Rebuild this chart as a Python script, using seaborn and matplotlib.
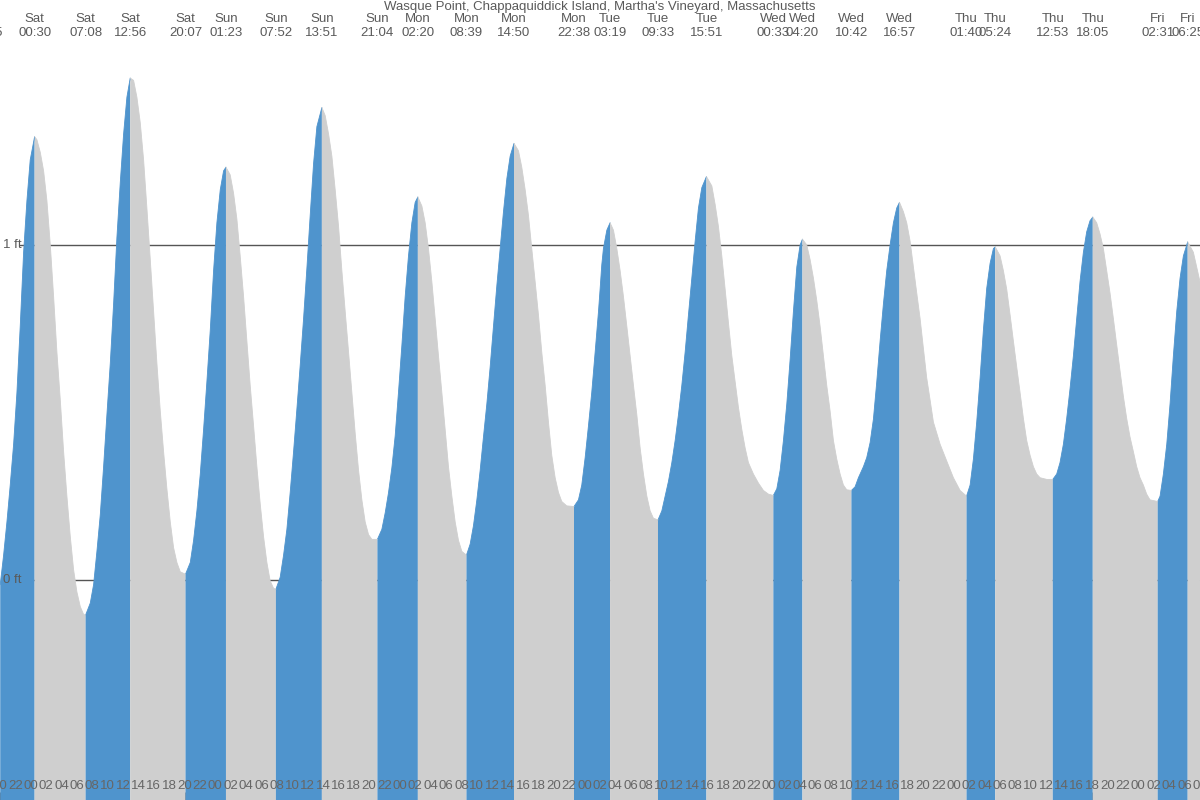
import numpy as np
import pandas as pd
import matplotlib
matplotlib.use("Agg")
import matplotlib.pyplot as plt
from matplotlib import transforms
import seaborn as sns

TITLE = "Wasque Point, Chappaquiddick Island, Martha's Vineyard, Massachusetts"

# High / low tide events (alternating Low, High, ...)
ext_day = ["Fri", "Sat", "Sat", "Sat", "Sat", "Sun", "Sun", "Sun", "Sun",
           "Mon", "Mon", "Mon", "Mon", "Tue", "Tue", "Tue",
           "Wed", "Wed", "Wed", "Wed", "Thu", "Thu", "Thu", "Thu", "Fri", "Fri"]
ext_time = ["18:15", "00:30", "07:08", "12:56", "20:07", "01:23", "07:52", "13:51", "21:04",
            "02:20", "08:39", "14:50", "22:38", "03:19", "09:33", "15:51",
            "00:33", "04:20", "10:42", "16:57", "01:40", "05:24", "12:53", "18:05", "02:31", "06:25"]

# Tide curve: hours since Sat 00:00, height in ft
tide_hours = [
    -3.97, -3.53, -3.10, -2.67, -2.23, -1.80, -1.37, -0.93, -0.50, -0.07, 0.50,
    0.80, 1.24, 1.67, 2.10, 2.54, 2.97, 3.40, 3.84, 4.27, 4.70, 5.14, 5.57, 6.00, 6.44, 6.87, 7.13,
    7.74, 8.17, 8.60, 9.04, 9.47, 9.90, 10.34, 10.77, 11.20, 11.64, 12.07, 12.50, 12.93,
    13.37, 13.80, 14.24, 14.67, 15.10, 15.54, 15.97, 16.40, 16.84, 17.27, 17.70, 18.14, 18.57, 19.00, 19.44, 20.12,
    20.74, 21.17, 21.60, 22.04, 22.47, 22.90, 23.34, 23.77, 24.20, 24.64, 25.07, 25.38,
    25.93, 26.37, 26.80, 27.23, 27.67, 28.10, 28.53, 28.97, 29.40, 29.83, 30.27, 30.70, 31.13, 31.57, 31.87,
    32.43, 32.87, 33.30, 33.73, 34.17, 34.60, 35.03, 35.47, 35.90, 36.33, 36.77, 37.20, 37.85,
    38.28, 38.72, 39.15, 39.58, 40.02, 40.45, 40.88, 41.32, 41.75, 42.18, 42.62, 43.05, 43.48, 43.92, 44.35, 45.07,
    45.65, 46.08, 46.51, 46.95, 47.38, 47.81, 48.25, 48.68, 49.11, 49.55, 49.98, 50.33,
    50.85, 51.28, 51.71, 52.15, 52.58, 53.01, 53.45, 53.88, 54.31, 54.75, 55.18, 55.61, 56.05, 56.65,
    57.13, 57.56, 58.00, 58.43, 58.86, 59.30, 59.73, 60.16, 60.60, 61.03, 61.46, 61.90, 62.33, 62.83,
    63.41, 63.84, 64.28, 64.71, 65.14, 65.58, 66.01, 66.44, 66.88, 67.31, 67.74, 68.18, 68.61, 69.04, 69.69, 70.63,
    71.21, 71.64, 72.08, 72.51, 72.94, 73.38, 73.81, 74.03, 74.24, 74.46, 74.90, 75.32,
    75.76, 76.20, 76.63, 77.06, 77.50, 77.93, 78.36, 78.80, 79.23, 79.66, 80.10, 80.53, 80.96, 81.55,
    82.05, 82.48, 82.91, 83.35, 83.78, 84.21, 84.65, 85.08, 85.51, 85.95, 86.38, 86.81, 87.25, 87.85,
    88.55, 88.98, 89.41, 89.85, 90.28, 90.71, 91.15, 91.58, 92.01, 92.45, 92.88, 93.31, 93.96, 94.61, 95.26, 95.91, 96.55,
    97.00, 97.43, 97.86, 98.30, 98.73, 99.16, 99.60, 100.03, 100.33,
    100.89, 101.33, 101.76, 102.19, 102.63, 103.06, 103.49, 103.93, 104.36, 104.79, 105.23, 105.66, 106.09, 106.70,
    107.18, 107.61, 108.26, 108.69, 109.13, 109.56, 109.99, 110.43, 110.86, 111.29, 111.73, 112.16, 112.59, 112.95,
    113.46, 113.89, 114.33, 114.76, 115.19, 115.63, 116.06, 116.49, 116.93, 117.36, 118.23, 119.09, 119.96, 120.83, 121.67,
    122.13, 122.56, 122.99, 123.43, 123.86, 124.29, 124.73, 125.16, 125.40,
    126.03, 126.46, 126.89, 127.33, 127.76, 128.19, 128.63, 129.06, 129.49, 129.93, 130.36, 130.79, 131.23, 132.09, 132.88,
    133.39, 133.82, 134.26, 134.69, 135.12, 135.56, 135.99, 136.42, 136.86, 137.29, 137.72, 138.08,
    138.59, 139.02, 139.46, 139.89, 140.32, 140.76, 141.19, 141.62, 142.06, 142.49, 142.92, 143.36, 143.79, 144.22, 144.66, 145.09, 145.52, 146.52,
    146.83, 147.26, 147.70, 148.13, 148.56, 149.00, 149.43, 149.86, 150.30, 150.42,
    151.16, 151.59, 152.02,
]
tide_feet = [
    -0.014, 0.074, 0.173, 0.283, 0.405, 0.559, 0.757, 0.978, 1.132, 1.254, 1.323,
    1.314, 1.276, 1.221, 1.132, 1.000, 0.846, 0.680, 0.537, 0.383, 0.250, 0.129, 0.030, -0.036, -0.080, -0.103, -0.105,
    -0.069, -0.014, 0.085, 0.195, 0.338, 0.493, 0.647, 0.824, 1.022, 1.187, 1.331, 1.441, 1.498,
    1.491, 1.441, 1.364, 1.254, 1.110, 0.956, 0.802, 0.647, 0.504, 0.383, 0.272, 0.173, 0.096, 0.052, 0.024, 0.017,
    0.052, 0.118, 0.206, 0.316, 0.449, 0.592, 0.746, 0.923, 1.066, 1.165, 1.221, 1.232,
    1.209, 1.154, 1.077, 0.967, 0.846, 0.713, 0.581, 0.460, 0.338, 0.228, 0.129, 0.052, -0.003, -0.025, -0.028,
    0.008, 0.074, 0.151, 0.261, 0.383, 0.510, 0.640, 0.780, 0.930, 1.088, 1.243, 1.353, 1.410,
    1.386, 1.331, 1.265, 1.165, 1.055, 0.923, 0.802, 0.680, 0.559, 0.438, 0.327, 0.239, 0.173, 0.135, 0.121, 0.121,
    0.151, 0.200, 0.260, 0.335, 0.430, 0.560, 0.700, 0.846, 0.967, 1.066, 1.127, 1.143,
    1.116, 1.066, 0.989, 0.890, 0.780, 0.669, 0.559, 0.449, 0.338, 0.250, 0.173, 0.118, 0.085, 0.074,
    0.107, 0.162, 0.239, 0.327, 0.427, 0.526, 0.636, 0.757, 0.879, 0.989, 1.099, 1.198, 1.265, 1.303,
    1.281, 1.232, 1.165, 1.088, 0.989, 0.890, 0.791, 0.680, 0.581, 0.471, 0.372, 0.305, 0.261, 0.234, 0.221, 0.219,
    0.239, 0.283, 0.365, 0.460, 0.560, 0.680, 0.800, 0.870, 0.940, 0.990, 1.044, 1.066,
    1.044, 0.989, 0.923, 0.846, 0.757, 0.669, 0.581, 0.493, 0.394, 0.316, 0.250, 0.206, 0.184, 0.179,
    0.206, 0.250, 0.294, 0.350, 0.416, 0.493, 0.581, 0.680, 0.791, 0.901, 1.011, 1.110, 1.171, 1.204,
    1.176, 1.121, 1.055, 0.967, 0.868, 0.768, 0.669, 0.592, 0.515, 0.449, 0.394, 0.350, 0.316, 0.289, 0.267, 0.256, 0.252,
    0.272, 0.327, 0.416, 0.526, 0.658, 0.802, 0.934, 1.000, 1.017,
    1.000, 0.956, 0.901, 0.835, 0.757, 0.669, 0.581, 0.504, 0.416, 0.361, 0.316, 0.283, 0.269, 0.267,
    0.278, 0.305, 0.338, 0.365, 0.410, 0.480, 0.590, 0.713, 0.824, 0.923, 1.000, 1.066, 1.110, 1.127,
    1.099, 1.066, 1.011, 0.934, 0.857, 0.780, 0.691, 0.603, 0.537, 0.471, 0.405, 0.355, 0.305, 0.267, 0.250,
    0.283, 0.361, 0.471, 0.603, 0.746, 0.870, 0.945, 0.989, 0.994,
    0.967, 0.923, 0.868, 0.791, 0.713, 0.636, 0.559, 0.482, 0.416, 0.372, 0.338, 0.316, 0.305, 0.300, 0.300,
    0.316, 0.350, 0.405, 0.482, 0.570, 0.669, 0.780, 0.890, 0.978, 1.039, 1.072, 1.083,
    1.066, 1.033, 0.989, 0.923, 0.857, 0.780, 0.702, 0.625, 0.548, 0.482, 0.427, 0.383, 0.338, 0.305, 0.283, 0.256, 0.239, 0.234,
    0.250, 0.316, 0.405, 0.526, 0.669, 0.802, 0.901, 0.967, 1.000, 1.009,
    0.978, 0.934, 0.890,
]

ref_levels = [0, 1]
ref_labels = ["0 ft", "1 ft"]

RISE = "#4F94CD"
FALL = "#CFCFCF"
TXT = "#5a5a5a"

sns.set_theme(style="white")
plt.rcParams["font.family"] = ["Liberation Sans", "DejaVu Sans"]

# hours of each event since Sat 00:00
ext_hours = []
day_idx, prev = -2, None
for d, t in zip(ext_day, ext_time):
    if d != prev:
        day_idx += 1
        prev = d
    hh, mm = map(int, t.split(":"))
    ext_hours.append(day_idx * 24 + hh + mm / 60)

hrs = np.array(tide_hours)
ft = np.array(tide_feet)

# split curve at the events: rising (low->high) and falling (high->low)
cuts, ends_high = [0], []
for k, h in enumerate(ext_hours):
    if hrs[0] < h < hrs[-1]:
        cuts.append(int(np.argmin(np.abs(hrs - h))))
        ends_high.append(k % 2 == 1)
cuts.append(len(hrs) - 1)
ends_high.append(not ends_high[-1])

rows = []
for s in range(len(cuts) - 1):
    phase = "rising" if ends_high[s] else "falling"
    for i in range(cuts[s], cuts[s + 1] + 1):
        rows.append({"hour": hrs[i], "ft": ft[i], "seg": s, "phase": phase})
df = pd.DataFrame(rows)

PX_PER_H = 7.693
X0 = 30.5  # pixel of Sat 00:00
xmin = -X0 / PX_PER_H
xmax = (1200 - X0) / PX_PER_H
ymin, ymax = -0.657, 1.731

fig = plt.figure(figsize=(12, 8), dpi=100)
ax = fig.add_axes([0, 0, 1, 1])
ax.set_xlim(xmin, xmax)
ax.set_ylim(ymin, ymax)

# reference lines
for lv in ref_levels:
    ax.axhline(lv, xmin=20 / 1200, xmax=1, color="#555555", lw=1, zorder=1)

pal = {"rising": RISE, "falling": FALL}
for s, g in df.groupby("seg"):
    ax.fill_between(g["hour"], g["ft"], ymin - 1, color=pal[g["phase"].iloc[0]],
                    lw=0, zorder=2)
sns.lineplot(data=df, x="hour", y="ft", hue="phase", units="seg", estimator=None,
             palette=pal, legend=False, lw=0.6, ax=ax, zorder=3, sort=False)

for lv, lab in zip(ref_levels, ref_labels):
    ax.text(xmin + 2.5 / PX_PER_H, lv, lab, ha="left", va="center",
            fontsize=9.5, color=TXT, zorder=5)

trans = transforms.blended_transform_factory(ax.transData, ax.transAxes)
for h, d, t in zip(ext_hours, ext_day, ext_time):
    ax.text(h, 1 - 19 / 800, d, ha="center", va="center", transform=trans,
            fontsize=9.5, color=TXT, zorder=5, clip_on=False)
    ax.text(h, 1 - 33 / 800, t, ha="center", va="center", transform=trans,
            fontsize=9.5, color=TXT, zorder=5, clip_on=False)
ax.text(0.5, 1 - 7 / 800, TITLE, ha="center", va="center", transform=ax.transAxes,
        fontsize=9.5, color=TXT, zorder=5)

hour_ticks = list(range(-4, 153, 2))
for h in hour_ticks:
    ax.text(h, 14 / 800, f"{h % 24:02d}", ha="center", va="center", transform=trans,
            fontsize=9.5, color="#666666", zorder=5)

ax.set_xticks([h for h in hour_ticks if h % 24 == 0])
ax.set_xticks(hour_ticks, minor=True)
ax.tick_params(axis="x", which="major", direction="in", length=5.8, width=2,
               color="#555555", bottom=True, labelbottom=False)
ax.tick_params(axis="x", which="minor", direction="in", length=5.8, width=0.8,
               color="#666666", bottom=True, labelbottom=False)
ax.set_yticks([])
ax.set_xlabel("")
ax.set_ylabel("")
for sp in ax.spines.values():
    sp.set_visible(False)

fig.savefig("out.png", dpi=100)
